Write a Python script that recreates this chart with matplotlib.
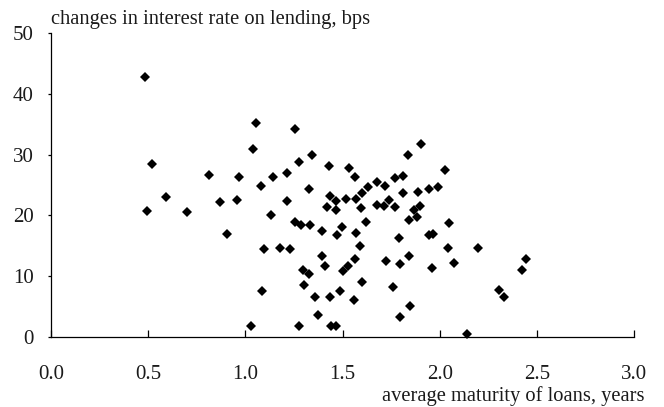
import numpy as np
import matplotlib
matplotlib.use('Agg')
import matplotlib.pyplot as plt

plt.rcParams['font.family'] = ['Liberation Serif', 'DejaVu Serif']

# average maturity of loans (years)
maturity = [
    0.485, 0.522, 0.593, 0.493, 0.698, 0.814, 0.871, 0.959, 0.907, 0.967,
    1.041, 1.057, 1.082, 1.144, 1.213, 1.213, 1.254, 1.275, 1.342, 1.326,
    1.132, 1.258, 1.289, 1.332, 1.395, 1.098, 1.180, 1.232, 1.395, 1.412,
    1.295, 1.326, 1.301, 1.088, 1.361, 1.375, 1.031, 1.275,
    1.430, 1.438, 1.418, 1.534, 1.564, 1.677, 1.720, 1.771, 1.813, 1.837,
    1.906, 2.029, 1.629, 1.598, 1.517, 1.569, 1.469, 1.813, 1.890, 1.947,
    1.990, 1.676, 1.715, 1.738, 1.771, 1.900, 1.594,
    1.466, 1.869, 1.844, 1.883, 1.620, 1.496, 1.474, 1.569, 2.050, 1.947,
    1.964, 1.792, 1.589, 2.041, 2.196, 1.564, 1.723, 1.840, 1.797, 2.076,
    1.959, 2.442, 2.423, 1.526, 1.500, 1.600, 1.758, 2.304, 2.330, 1.486,
    1.557, 1.849, 1.797, 2.139, 1.443, 1.466, 1.438,
]
# changes in interest rate on lending (bps)
rate_change = [
    42.8, 28.5, 23.0, 20.7, 20.5, 26.6, 22.2, 22.6, 17.0, 26.3,
    30.9, 35.2, 24.8, 26.3, 27.0, 22.4, 34.2, 28.8, 30.0, 24.4,
    20.1, 18.9, 18.5, 18.5, 17.5, 14.5, 14.7, 14.5, 13.3, 11.6,
    11.1, 10.4, 8.6, 7.6, 6.6, 3.6, 1.8, 1.8,
    28.1, 23.2, 21.4, 27.8, 26.3, 25.5, 24.8, 26.1, 26.5, 30.0,
    31.7, 27.4, 24.7, 23.7, 22.7, 22.7, 22.3, 23.7, 23.9, 24.4,
    24.6, 21.7, 21.5, 22.5, 21.3, 21.5, 21.2,
    20.9, 20.9, 19.2, 19.7, 18.9, 18.1, 16.8, 17.1, 18.7, 16.7,
    16.9, 16.3, 15.0, 14.7, 14.6, 12.9, 12.5, 13.3, 12.0, 12.2,
    11.3, 12.9, 11.0, 11.6, 10.9, 9.1, 8.3, 7.8, 6.6, 7.6,
    6.1, 5.1, 3.3, 0.5, 1.8, 1.8, 6.6,
]

xticks = [0.0, 0.5, 1.0, 1.5, 2.0, 2.5, 3.0]
yticks = [0, 10, 20, 30, 40, 50]

fig = plt.figure(figsize=(6.64, 4.07), dpi=100)
ax = fig.add_axes([51/664, 1 - 337/407, 583/664, 304/407])

ax.plot(maturity, rate_change, 'D', color='black', markersize=5.0,
        markeredgewidth=0, clip_on=False)

ax.set_xlim(0, 3.0)
ax.set_ylim(0, 50)
ax.set_xticks(xticks)
ax.set_xticklabels(['%.1f' % v for v in xticks])
ax.set_yticks(yticks)

for s in ['top', 'right']:
    ax.spines[s].set_visible(False)
for s in ['left', 'bottom']:
    ax.spines[s].set_linewidth(0.9)
    ax.spines[s].set_color('black')

ax.tick_params(axis='x', direction='in', length=5, width=0.9, pad=20,
               labelsize=15, colors='black', labelcolor='#1a1a1a')
ax.tick_params(axis='y', direction='out', length=2.5, width=0.9, pad=10,
               labelsize=15, colors='black', labelcolor='#1a1a1a')

fig.text(51/664, 1 - 24/407, 'changes in interest rate on lending, bps',
         ha='left', va='baseline', fontsize=14.8, color='#1a1a1a')
fig.text(645/664, 1 - 401.5/407, 'average maturity of loans, years',
         ha='right', va='baseline', fontsize=14.8, color='#1a1a1a')

plt.savefig('out.png', dpi=100)
